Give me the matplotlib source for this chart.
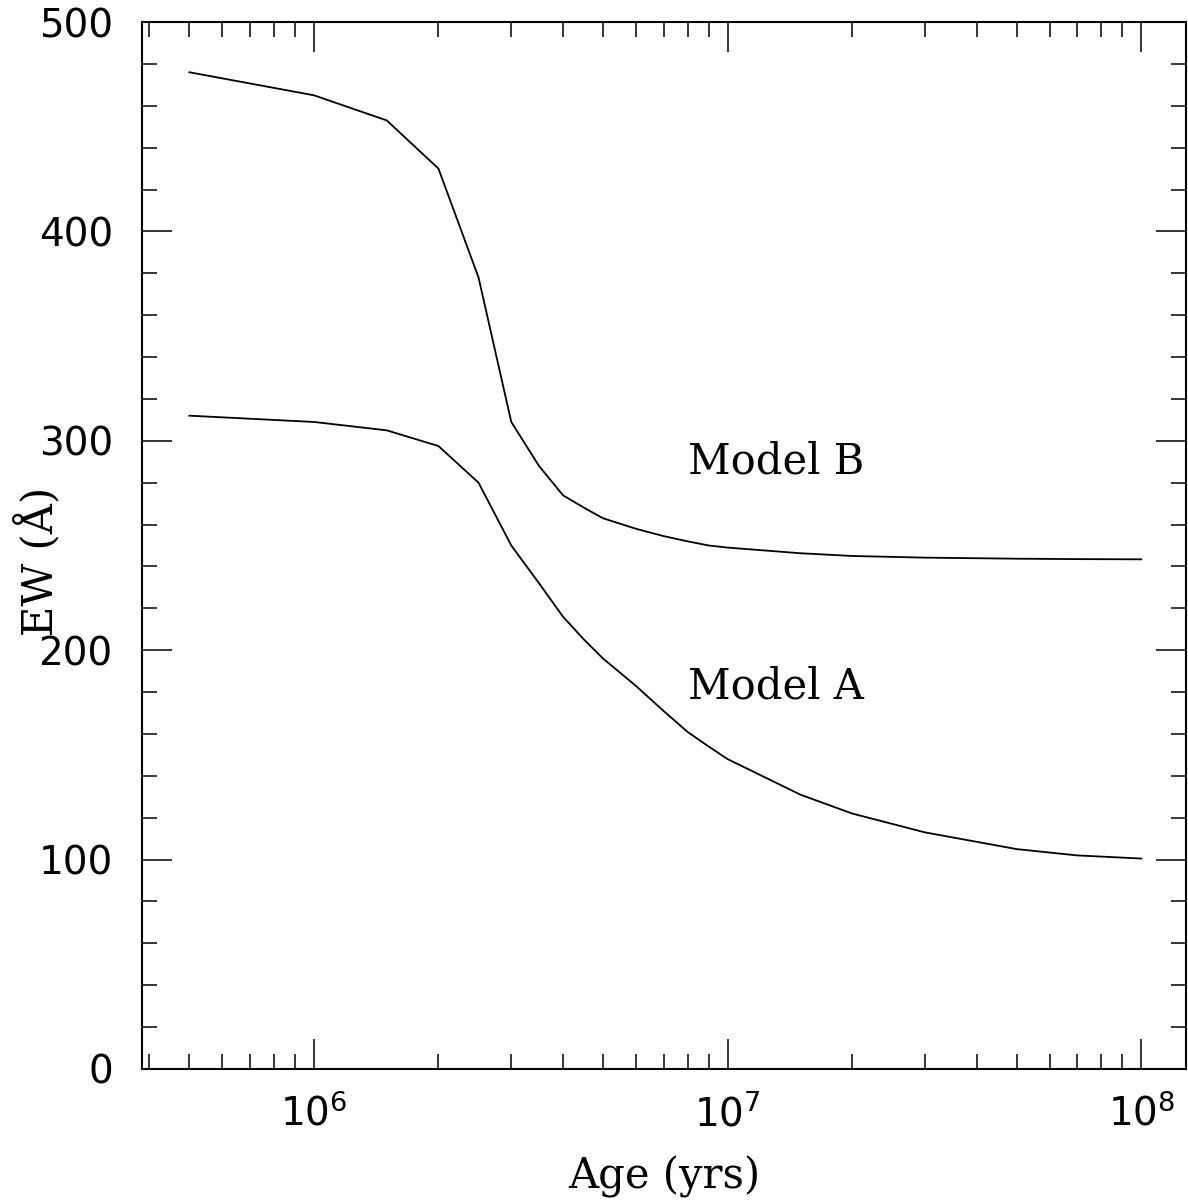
import numpy as np
import matplotlib
matplotlib.use("Agg")
import matplotlib.pyplot as plt
from matplotlib.ticker import LogLocator, MultipleLocator, NullFormatter

# ---- data ----
ages = [5e5, 1e6, 1.5e6, 2e6, 2.5e6, 3e6, 3.5e6, 4e6, 4.5e6, 5e6, 6e6, 7e6, 8e6,
        9e6, 1e7, 1.5e7, 2e7, 3e7, 5e7, 7e7, 1e8]
model_b = [476, 465, 453, 430, 378, 309, 288, 274, 268, 263, 258, 254.5, 252,
           250, 249, 246.3, 245, 244.2, 243.7, 243.5, 243.4]
model_a = [312, 309, 305, 297.5, 280, 250, 232, 216, 205, 196, 183, 171, 161,
           154, 148, 131, 122, 113, 105, 102, 100.5]
labels = ["Model A", "Model B"]
label_pos = [(8.0e6, 176.7), (8.0e6, 284.6)]
x_label = "Age (yrs)"
y_label = "EW (Å)"

plt.rcParams['mathtext.fontset'] = 'dejavusans'

fig = plt.figure(figsize=(11.88, 12.03), dpi=100)
ax = fig.add_axes([142/1188, 1 - 1069/1203, (1186-142)/1188, (1069-22)/1203])

ax.plot(ages, model_b, color='black', lw=1.3)
ax.plot(ages, model_a, color='black', lw=1.3)

ax.set_xscale('log')
ax.set_xlim(10**5.5845, 10**8.108)
ax.set_ylim(0, 500)

ax.yaxis.set_major_locator(MultipleLocator(100))
ax.yaxis.set_minor_locator(MultipleLocator(20))
ax.xaxis.set_major_locator(LogLocator(base=10, numticks=10))
ax.xaxis.set_minor_locator(LogLocator(base=10, subs=np.arange(2, 10), numticks=20))
ax.xaxis.set_minor_formatter(NullFormatter())

for s in ax.spines.values():
    s.set_linewidth(1.5)

ax.tick_params(which='both', direction='in', top=True, right=True, width=1.1, colors='black')
ax.tick_params(which='major', length=21.5)
ax.tick_params(which='minor', length=10.8)
ax.tick_params(axis='y', which='major', labelsize=28, pad=21)
ax.tick_params(axis='x', which='major', labelsize=28, pad=18)
for lab in ax.get_xticklabels() + ax.get_yticklabels():
    lab.set_family('DejaVu Sans')

for t, (x, y) in zip(labels, label_pos):
    ax.text(x, y, t, fontsize=30, family='DejaVu Serif', va='baseline', ha='left')

ax.set_xlabel(x_label, fontsize=30, family='DejaVu Serif')
ax.set_ylabel(y_label, fontsize=30, family='DejaVu Serif')
ax.xaxis.set_label_coords(0.5, -0.083)
ax.yaxis.set_label_coords(-0.077, 0.485)

fig.savefig("out.png", dpi=100)
